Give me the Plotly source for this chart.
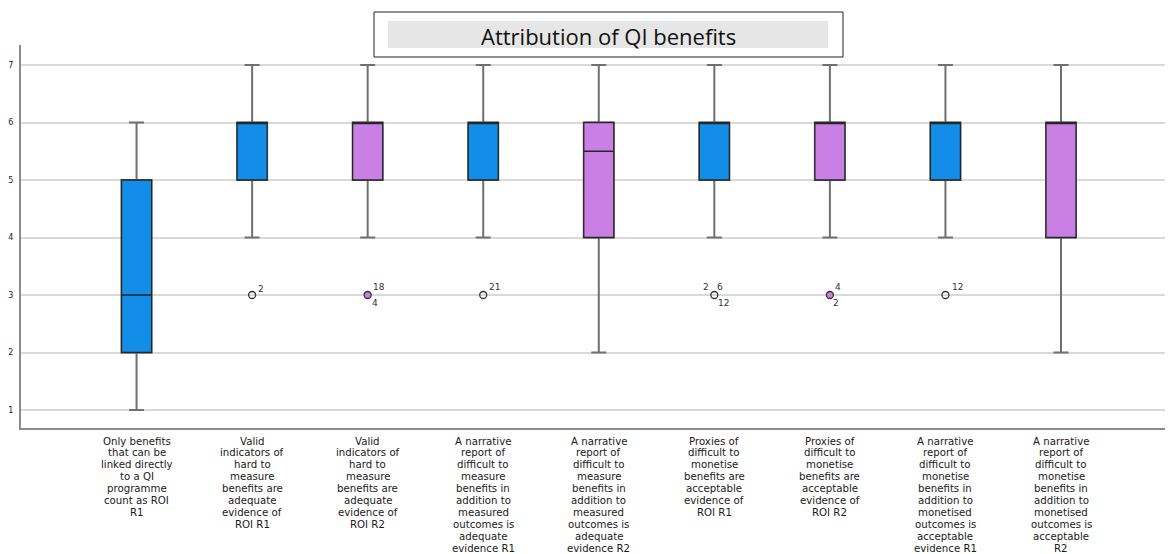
import plotly.graph_objects as go

# Survey statements (one box per statement)
categories = [
    "Only benefits<br>that can be<br>linked directly<br>to a QI<br>programme<br>count as ROI<br>R1",
    "Valid<br>indicators of<br>hard to<br>measure<br>benefits are<br>adequate<br>evidence of<br>ROI R1",
    "Valid<br>indicators of<br>hard to<br>measure<br>benefits are<br>adequate<br>evidence of<br>ROI R2",
    "A narrative<br>report of<br>difficult to<br>measure<br>benefits in<br>addition to<br>measured<br>outcomes is<br>adequate<br>evidence R1",
    "A narrative<br>report of<br>difficult to<br>measure<br>benefits in<br>addition to<br>measured<br>outcomes is<br>adequate<br>evidence R2",
    "Proxies of<br>difficult to<br>monetise<br>benefits are<br>acceptable<br>evidence of<br>ROI R1",
    "Proxies of<br>difficult to<br>monetise<br>benefits are<br>acceptable<br>evidence of<br>ROI R2",
    "A narrative<br>report of<br>difficult to<br>monetise<br>benefits in<br>addition to<br>monetised<br>outcomes is<br>acceptable<br>evidence R1",
    "A narrative<br>report of<br>difficult to<br>monetise<br>benefits in<br>addition to<br>monetised<br>outcomes is<br>acceptable<br>R2",
]
rounds = ["R1", "R1", "R2", "R1", "R2", "R1", "R2", "R1", "R2"]

# Box statistics (7-point agreement scale)
q1 = [2, 5, 5, 5, 4, 5, 5, 5, 4]
median = [3, 6, 6, 6, 5.5, 6, 6, 6, 6]
q3 = [5, 6, 6, 6, 6, 6, 6, 6, 6]
lower_fence = [1, 4, 4, 4, 2, 4, 4, 4, 2]
upper_fence = [6, 7, 7, 7, 7, 7, 7, 7, 7]

# Outlying responses: statement index, value, case ids
outlier_cat = [1, 2, 3, 5, 6, 7]
outlier_val = [3, 3, 3, 3, 3, 3]
outlier_ids = [["2"], ["18", "4"], ["21"], ["2", "6", "12"], ["4", "2"], ["12"]]
# pixel offsets of each case-id label relative to its marker
outlier_label_offsets = [
    [(9, 6)],
    [(11, 8), (7, -8)],
    [(11, 8)],
    [(-8, 8), (6, 8), (9, -8)],
    [(8, 8), (6, -8)],
    [(12, 8)],
]

BLUE = "#128EE8"
PURPLE = "#C97FE3"
colors = {"R1": BLUE, "R2": PURPLE}

fig = go.Figure()

for rnd in ["R1", "R2"]:
    idx = [i for i, r in enumerate(rounds) if r == rnd]
    # whiskers layer
    fig.add_trace(go.Box(
        x=idx,
        q1=[q1[i] for i in idx],
        median=[median[i] for i in idx],
        q3=[q3[i] for i in idx],
        lowerfence=[lower_fence[i] for i in idx],
        upperfence=[upper_fence[i] for i in idx],
        width=0.26,
        whiskerwidth=0.5,
        fillcolor=colors[rnd],
        line=dict(color="#707070", width=2),
        boxpoints=False,
        showlegend=False,
        hoverinfo="skip",
    ))
    # box body with dark outline
    fig.add_trace(go.Box(
        x=idx,
        q1=[q1[i] for i in idx],
        median=[median[i] for i in idx],
        q3=[q3[i] for i in idx],
        lowerfence=[q1[i] for i in idx],
        upperfence=[q3[i] for i in idx],
        width=0.26,
        whiskerwidth=0,
        fillcolor=colors[rnd],
        line=dict(color="#262626", width=1.3),
        boxpoints=False,
        showlegend=False,
    ))

# outlier markers: open for R1 statements, filled for R2 statements
fill = ["rgba(0,0,0,0)" if rounds[c] == "R1" else PURPLE for c in outlier_cat]
fig.add_trace(go.Scatter(
    x=outlier_cat,
    y=outlier_val,
    mode="markers",
    marker=dict(symbol="circle", size=7, color=fill,
                line=dict(color="#333333", width=1.3)),
    showlegend=False,
))

annotations = []
for c, v, ids, offs in zip(outlier_cat, outlier_val, outlier_ids, outlier_label_offsets):
    for t, (dx, dy) in zip(ids, offs):
        annotations.append(dict(
            x=c, y=v, xref="x", yref="y", text=t, showarrow=False,
            xshift=dx, yshift=dy,
            font=dict(family="DejaVu Sans", size=9, color="#333333"),
        ))

# multi-line category labels, one annotation per line for tight spacing
plot_h = 554 - 45 - 126
for i, lab in enumerate(categories):
    for k, line in enumerate(lab.split("<br>")):
        annotations.append(dict(
            x=i, y=-13 / plot_h, xref="x", yref="paper", text=line,
            showarrow=False, yanchor="middle", xanchor="center",
            yshift=-11.9 * k, borderpad=0,
            font=dict(family="DejaVu Sans", size=10.2, color="#1a1a1a"),
        ))

# title inside a framed box
annotations.append(dict(
    x=(608.5 - 21) / 1144, y=(428 - 36) / plot_h, xref="paper", yref="paper",
    text="Attribution of QI benefits", showarrow=False,
    xanchor="center", yanchor="middle",
    font=dict(family="Open Sans", size=22, color="#111111"),
))

shapes = [
    dict(type="rect", xref="paper", yref="paper",
         x0=(374 - 21) / 1144, x1=(843 - 21) / 1144,
         y0=(428 - 57) / plot_h, y1=(428 - 12) / plot_h,
         fillcolor="white", line=dict(color="#222222", width=1), layer="above"),
    dict(type="rect", xref="paper", yref="paper",
         x0=(388 - 21) / 1144, x1=(828 - 21) / 1144,
         y0=(428 - 48) / plot_h, y1=(428 - 21) / plot_h,
         fillcolor="#E6E6E6", line=dict(width=0), layer="above"),
]

fig.update_layout(
    width=1169, height=554,
    margin=dict(l=21, r=4, t=45, b=126),
    paper_bgcolor="white", plot_bgcolor="white",
    boxmode="overlay",
    annotations=annotations,
    shapes=shapes,
    xaxis=dict(
        range=[-1, 8.9], showticklabels=False, showgrid=False, zeroline=False,
        showline=True, linecolor="#8C8C8C", linewidth=2,
    ),
    yaxis=dict(
        range=[0.687, 7.348], tickvals=[1, 2, 3, 4, 5, 6, 7],
        showgrid=True, gridcolor="#D9D9D9", gridwidth=1.5, zeroline=False,
        showline=True, linecolor="#8C8C8C", linewidth=2,
        tickfont=dict(family="DejaVu Sans", size=8, color="#222222"),
        ticks="", ticklabelstandoff=4,
    ),
)

fig.write_html("out.html")
